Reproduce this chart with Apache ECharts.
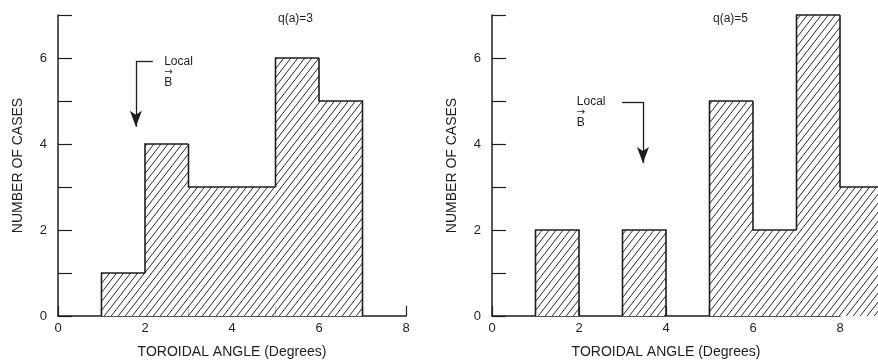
<!DOCTYPE html>
<html>
<head>
<meta charset="utf-8">
<script src="https://cdn.jsdelivr.net/npm/echarts@6/dist/echarts.min.js"></script>
<style>
html,body{margin:0;padding:0;background:#fff;}
#chart{width:878px;height:364px;}
</style>
</head>
<body>
<div id="chart"></div>
<script>
// ---- data ----
const binWidth = 1;
const leftBinStarts = [1, 2, 3, 4, 5, 6];
const leftCounts    = [1, 4, 3, 3, 6, 5];
const rightBinStarts = [0, 1, 2, 3, 4, 5, 6, 7, 8];
const rightCounts    = [0, 2, 0, 2, 0, 5, 2, 7, 3];
const leftTitle = 'q(a)=3';
const rightTitle = 'q(a)=5';
const xAxisTitle = 'TOROIDAL ANGLE (Degrees)';
const yAxisTitle = 'NUMBER OF CASES';
// arrow annotations: [x, y] in data units
const leftArrowPath  = [[2.18, 5.92], [1.79, 5.92], [1.79, 4.40]];
const leftArrowLabel = [2.44, 5.92];
const rightArrowPath  = [[2.99, 4.98], [3.47, 4.98], [3.47, 3.56]];
const rightArrowLabel = [1.95, 4.98];

// ---- hatch pattern ----
function makeHatch() {
  const w = 7, h = 9;
  const c = document.createElement('canvas');
  c.width = w; c.height = h;
  const g = c.getContext('2d');
  g.fillStyle = '#fff';
  g.fillRect(0, 0, w, h);
  g.strokeStyle = '#2a2a2a';
  g.lineWidth = 1;
  for (const dx of [-w, 0, w]) {
    g.beginPath();
    g.moveTo(dx - w, 2 * h);
    g.lineTo(dx + 2 * w, -h);
    g.stroke();
  }
  return c;
}
const hatch = { image: makeHatch(), repeat: 'repeat' };

// each item: [start, end, count, previous count, next count]
function histData(starts, counts) {
  return starts.map((s, i) => [s, s + binWidth, counts[i],
    i > 0 ? counts[i - 1] : 0, i < counts.length - 1 ? counts[i + 1] : 0]);
}

const ink = '#1e1e1e';
const font = 'Liberation Sans, Arial, Helvetica, sans-serif';

function renderBin(params, api) {
  const x0 = api.value(0), x1 = api.value(1), v = api.value(2);
  const prev = api.value(3), next = api.value(4);
  const children = [];
  const lineStyle = { stroke: ink, lineWidth: 1.6, fill: null };
  if (v) {
    const p0 = api.coord([x0, v]);
    const p1 = api.coord([x1, 0]);
    children.push({
      type: 'rect', z2: 1,
      shape: { x: p0[0], y: p0[1], width: p1[0] - p0[0], height: p1[1] - p0[1] },
      style: { fill: hatch, stroke: null }
    });
    const a = api.coord([x0, prev]), b = api.coord([x0, v]), c = api.coord([x1, v]);
    const pts = [a, b, c];
    if (next === 0) pts.push(api.coord([x1, 0]));
    children.push({ type: 'polyline', z2: 2, shape: { points: pts }, style: lineStyle });
  }
  return { type: 'group', children: children };
}

function xAxisOpt(idx) {
  return {
    type: 'value', gridIndex: idx, min: 0, max: 8, interval: 1,
    name: xAxisTitle, nameLocation: 'middle', nameGap: 29,
    nameTextStyle: { fontFamily: font, fontSize: 14, color: ink },
    axisLine: { lineStyle: { color: ink, width: 1.5 } },
    axisTick: { inside: true, length: 10, lineStyle: { color: ink, width: 1.2 } },
    axisLabel: { fontFamily: font, fontSize: 13, color: ink, margin: 6,
      formatter: v => (v % 2 === 0 ? String(v) : '') },
    splitLine: { show: false }
  };
}
function yAxisOpt(idx) {
  return {
    type: 'value', gridIndex: idx, min: 0, max: 7, interval: 1,
    name: yAxisTitle, nameLocation: 'middle', nameGap: 33,
    nameTextStyle: { fontFamily: font, fontSize: 14, color: ink },
    axisLine: { lineStyle: { color: ink, width: 1.5 } },
    axisTick: { inside: true, length: 14, lineStyle: { color: ink, width: 1.2 } },
    axisLabel: { fontFamily: font, fontSize: 13, color: ink, margin: 11,
      formatter: v => (v % 2 === 0 ? String(v) : '') },
    splitLine: { show: false }
  };
}

function arrowMarkLine(path) {
  return {
    silent: true, animation: false,
    lineStyle: { color: ink, width: 1.3, type: 'solid' },
    label: { show: false },
    data: [
      [{ coord: path[0], symbol: 'none' }, { coord: path[1], symbol: 'none' }],
      [{ coord: path[1], symbol: 'none' }, { coord: path[2], symbol: 'arrow', symbolSize: [9, 16] }]
    ]
  };
}
function labelMarkPoint(pos) {
  return {
    silent: true, animation: false,
    symbol: 'circle', symbolSize: 0,
    data: [{ coord: pos }],
    label: {
      show: true, position: [0, -7], align: 'left', verticalAlign: 'top', color: ink,
      fontFamily: font,
      formatter: '{l|Local}\n{a|\u2192}\n{b|B}',
      rich: {
        l: { fontSize: 12, lineHeight: 14, fontFamily: font, color: ink },
        a: { fontSize: 10, lineHeight: 8, fontFamily: 'DejaVu Sans', color: ink },
        b: { fontSize: 12, lineHeight: 12, fontFamily: font, color: ink }
      }
    }
  };
}

const chart = echarts.init(document.getElementById('chart'), null, { renderer: 'canvas' });
chart.setOption({
  backgroundColor: '#fff',
  animation: false,
  title: [
    { text: leftTitle, left: 273, top: 8, textStyle: { fontFamily: font, fontSize: 12, fontWeight: 'normal', color: ink } },
    { text: rightTitle, left: 708, top: 8, textStyle: { fontFamily: font, fontSize: 12, fontWeight: 'normal', color: ink } }
  ],
  grid: [
    { left: 58, top: 15, width: 348, bottom: 48 },
    { left: 492, top: 15, width: 348, bottom: 48 }
  ],
  xAxis: [xAxisOpt(0), xAxisOpt(1)],
  yAxis: [yAxisOpt(0), yAxisOpt(1)],
  series: [
    { type: 'custom', xAxisIndex: 0, yAxisIndex: 0, clip: false, z: 1,
      renderItem: renderBin, data: histData(leftBinStarts, leftCounts),
      markLine: arrowMarkLine(leftArrowPath), markPoint: labelMarkPoint(leftArrowLabel) },
    { type: 'custom', xAxisIndex: 1, yAxisIndex: 1, clip: false, z: 1,
      renderItem: renderBin, data: histData(rightBinStarts, rightCounts),
      markLine: arrowMarkLine(rightArrowPath), markPoint: labelMarkPoint(rightArrowLabel) }
  ]
});
</script>
</body>
</html>
